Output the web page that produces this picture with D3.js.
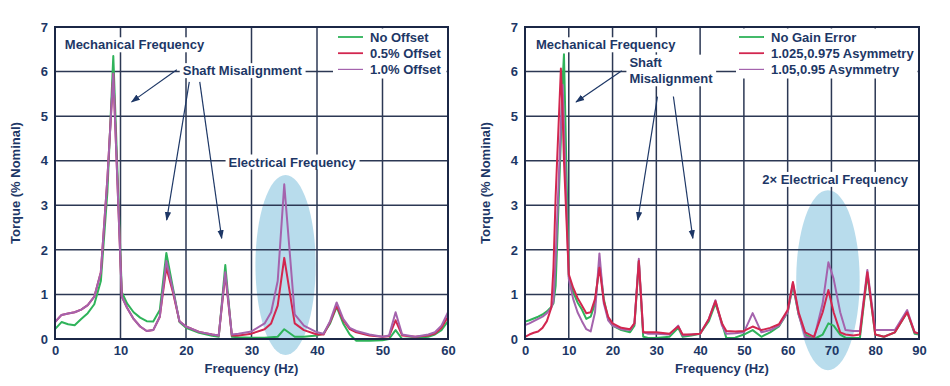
<!DOCTYPE html>
<html>
<head>
<meta charset="utf-8">
<script src="https://cdn.jsdelivr.net/npm/d3@7"></script>
<style>
  body { margin: 0; background: #fff; }
  svg { font-family: "Liberation Sans", Arial, sans-serif; font-weight: bold; }
</style>
</head>
<body>
<div id="main"></div>
<script>
// left chart: shaft offset
const freqLeft = [0,1,2,3,4,5,6,7,8,8.9,10.2,11,12,13,14,15,16,17,18,19,20,22,24,25,26,27,28,30,32,33,34,35,36.6,38,40,41,42,43,44,45,46,48,50,51,52,53,55,57,58,59,60];
const noOffset = [0.22,0.38,0.33,0.31,0.45,0.58,0.78,1.3,3.3,6.35,1.05,0.8,0.6,0.48,0.4,0.39,0.65,1.93,1.15,0.38,0.25,0.14,0.07,0.05,1.66,0.05,0.04,0.03,0.03,0.04,0.05,0.22,0.05,0.05,0.08,0.12,0.35,0.72,0.35,0.1,-0.04,-0.04,-0.03,0.0,0.2,0.0,0.02,0.05,0.1,0.2,0.4];
const offset05 = [0.38,0.54,0.57,0.6,0.66,0.76,0.95,1.5,3.6,5.95,0.95,0.7,0.45,0.28,0.18,0.2,0.5,1.6,1.05,0.4,0.28,0.16,0.1,0.08,1.45,0.08,0.08,0.12,0.22,0.35,0.75,1.82,0.35,0.2,0.1,0.1,0.38,0.75,0.42,0.22,0.15,0.08,0.05,0.06,0.42,0.08,0.05,0.08,0.12,0.25,0.5];
const offset10 = [0.38,0.54,0.57,0.6,0.66,0.76,0.95,1.5,3.6,5.95,0.95,0.7,0.45,0.28,0.18,0.2,0.5,1.75,1.1,0.4,0.28,0.16,0.1,0.08,1.5,0.1,0.12,0.17,0.35,0.6,1.3,3.47,0.55,0.3,0.15,0.12,0.4,0.82,0.45,0.25,0.18,0.1,0.05,0.08,0.6,0.1,0.05,0.1,0.15,0.3,0.6];

// right chart: gain asymmetry
const freqRight = [0,1,2,3,4,5,6,6.5,7,8.2,8.6,8.9,10,11,12,13,14,15,16,17,18,19,20,22,24,25,26,27,28,30,33,35,36,38,40,42,43.5,45,46,48,50,52,54,56,58,60,61.2,62.5,64,66,68,69.3,70.5,72,73.2,75,76.5,78.2,80,82,84.5,87.3,89,90];
const noGainError = [0.39,0.42,0.46,0.5,0.55,0.62,0.72,0.8,1.2,4.5,5.8,6.39,1.4,1.05,0.82,0.66,0.45,0.5,0.8,1.7,0.9,0.45,0.3,0.2,0.15,0.3,1.75,0.05,0.03,0.02,0.05,0.25,0.05,0.08,0.12,0.4,0.8,0.35,0.02,0.03,0.1,0.2,0.05,0.15,0.28,0.6,1.2,0.55,0.1,0.0,0.1,0.35,0.3,0.1,0.03,0.02,0.02,1.45,0.1,0.05,0.15,0.6,0.12,0.1];
const asym025 = [0.05,0.1,0.14,0.17,0.25,0.4,0.7,1.6,3.2,6.07,5.0,4.0,1.45,1.15,0.92,0.75,0.58,0.6,0.9,1.6,0.85,0.5,0.35,0.25,0.22,0.35,1.75,0.15,0.15,0.15,0.12,0.28,0.1,0.1,0.12,0.45,0.85,0.35,0.18,0.17,0.18,0.28,0.2,0.25,0.33,0.65,1.28,0.6,0.15,0.05,0.6,1.1,0.6,0.15,0.1,0.08,0.1,1.5,0.1,0.05,0.15,0.6,0.15,0.12];
const asym05 = [0.31,0.35,0.4,0.45,0.5,0.58,0.7,0.85,1.8,4.8,5.7,4.8,1.35,0.9,0.6,0.4,0.22,0.17,0.6,1.92,0.8,0.42,0.3,0.22,0.2,0.35,1.8,0.15,0.12,0.12,0.1,0.3,0.08,0.1,0.12,0.45,0.87,0.3,0.12,0.13,0.15,0.58,0.15,0.2,0.3,0.6,1.25,0.55,0.05,0.0,0.8,1.72,1.35,0.6,0.2,0.18,0.18,1.55,0.2,0.2,0.2,0.65,0.15,0.12];

const yTicks = [0,1,2,3,4,5,6,7];
const xTicksLeft = [0,10,20,30,40,50,60];
const xTicksRight = [0,10,20,30,40,50,60,70,80,90];

const GREEN = '#2fb35a', RED = '#d2264f', PURPLE = '#a463ad';
const NAVY = '#1d3766', GRID = '#2c3854';
const FONT_SIZE = '13px';

const charts = [
  {
    left: 55, right: 448, xMax: 60, freq: freqLeft, xTicks: xTicksLeft,
    series: [
      { name: 'No Offset', values: noOffset, color: GREEN },
      { name: '0.5% Offset', values: offset05, color: RED },
      { name: '1.0% Offset', values: offset10, color: PURPLE }
    ],
    drawOrder: [0, 1, 2],
    legendX: 338, legendBox: [333, 448],
    ellipse: { f: 35.2, v: 1.66, rf: 4.6, rv: 2.02 },
    labels: [
      { lines: ['Mechanical Frequency'], f: 1.5, v: 6.5 },
      { lines: ['Shaft Misalignment'], f: 19.5, v: 5.92 },
      { lines: ['Electrical Frequency'], f: 26.5, v: 3.87 }
    ],
    arrows: [[18.6, 6.04, 11.7, 5.32], [20.5, 5.77, 17.05, 2.67], [22.1, 5.77, 25.45, 2.26]]
  },
  {
    left: 525, right: 919, xMax: 90, freq: freqRight, xTicks: xTicksRight,
    series: [
      { name: 'No Gain Error', values: noGainError, color: GREEN },
      { name: '1.025,0.975 Asymmetry', values: asym025, color: RED },
      { name: '1.05,0.95 Asymmetry', values: asym05, color: PURPLE }
    ],
    drawOrder: [0, 2, 1],
    legendX: 739, legendBox: [736, 919],
    ellipse: { f: 69.2, v: 1.32, rf: 7.25, rv: 2.02 },
    labels: [
      { lines: ['Mechanical Frequency'], f: 2.5, v: 6.5 },
      { lines: ['Shaft', 'Misalignment'], f: 23.85, v: 6.11 },
      { lines: ['2\u00d7 Electrical Frequency'], f: 54.2, v: 3.48 }
    ],
    arrows: [[22.1, 6.02, 11.66, 5.32], [30.25, 5.44, 25.77, 2.67], [33.9, 5.44, 38.34, 2.26]]
  }
];

const plotTop = 27, plotBottom = 339;

const svg = d3.select('#main').append('svg')
  .attr('width', 950)
  .attr('height', 386);

svg.append('defs').append('marker')
  .attr('id', 'arrow')
  .attr('viewBox', '0 0 10 10')
  .attr('refX', 9).attr('refY', 5)
  .attr('markerWidth', 9).attr('markerHeight', 9)
  .attr('markerUnits', 'userSpaceOnUse')
  .attr('orient', 'auto')
  .append('path')
  .attr('d', 'M0,1.5 L10,5 L0,8.5 Z')
  .attr('fill', NAVY);

charts.forEach(c => {
  const x = d3.scaleLinear().domain([0, c.xMax]).range([c.left, c.right]);
  const y = d3.scaleLinear().domain([0, 7]).range([plotBottom, plotTop]);
  const g = svg.append('g');

  // blue highlight
  g.append('ellipse')
    .attr('cx', x(c.ellipse.f))
    .attr('cy', y(c.ellipse.v))
    .attr('rx', x(c.ellipse.rf) - x(0))
    .attr('ry', y(0) - y(c.ellipse.rv))
    .attr('fill', '#b8dcec');

  // grid
  g.append('g').selectAll('line')
    .data(c.xTicks)
    .enter().append('line')
    .attr('x1', d => x(d)).attr('x2', d => x(d))
    .attr('y1', plotTop).attr('y2', plotBottom)
    .attr('stroke', GRID).attr('stroke-width', 1.5);
  g.append('g').selectAll('line')
    .data(yTicks)
    .enter().append('line')
    .attr('x1', c.left).attr('x2', c.right)
    .attr('y1', d => y(d)).attr('y2', d => y(d))
    .attr('stroke', GRID).attr('stroke-width', 1.5);

  // white backgrounds of the labels
  const bgLayer = g.append('g');
  bgLayer.append('rect')
    .attr('x', c.legendBox[0]).attr('y', plotTop + 1.5)
    .attr('width', c.legendBox[1] - c.legendBox[0] - 1.5)
    .attr('height', 50)
    .attr('fill', '#fff');

  // data lines
  const line = d3.line()
    .x((d, i) => x(c.freq[i]))
    .y(d => y(d));
  c.drawOrder.forEach(k => {
    const s = c.series[k];
    g.append('path')
      .datum(s.values)
      .attr('d', line)
      .attr('fill', 'none')
      .attr('stroke', s.color)
      .attr('stroke-width', 2)
      .attr('stroke-linejoin', 'round');
  });

  // frame
  g.append('rect')
    .attr('x', c.left).attr('y', plotTop)
    .attr('width', c.right - c.left).attr('height', plotBottom - plotTop)
    .attr('fill', 'none')
    .attr('stroke', '#1b2746')
    .attr('stroke-width', 2);

  // annotation text
  c.labels.forEach(l => {
    const t = g.append('text')
      .attr('x', x(l.f)).attr('y', y(l.v))
      .attr('fill', NAVY)
      .style('font-size', FONT_SIZE);
    l.lines.forEach((s, i) => {
      t.append('tspan').attr('x', x(l.f)).attr('dy', i === 0 ? 0 : 16.6).text(s);
    });
    const b = t.node().getBBox();
    bgLayer.append('rect')
      .attr('x', b.x - 3).attr('y', b.y)
      .attr('width', b.width + 6).attr('height', b.height)
      .attr('fill', '#fff');
  });

  // arrows
  g.append('g').selectAll('line')
    .data(c.arrows)
    .enter().append('line')
    .attr('x1', d => x(d[0])).attr('y1', d => y(d[1]))
    .attr('x2', d => x(d[2])).attr('y2', d => y(d[3]))
    .attr('stroke', NAVY)
    .attr('stroke-width', 1.2)
    .attr('marker-end', 'url(#arrow)');

  // legend
  const leg = g.append('g');
  c.series.forEach((s, i) => {
    const ly = 37 + i * 16.2;
    leg.append('line')
      .attr('x1', c.legendX).attr('x2', c.legendX + 25)
      .attr('y1', ly).attr('y2', ly)
      .attr('stroke', s.color).attr('stroke-width', i === 2 ? 1.2 : 1.8);
    leg.append('text')
      .attr('x', c.legendX + 32).attr('y', ly + 4.5)
      .attr('fill', NAVY)
      .style('font-size', FONT_SIZE)
      .text(s.name);
  });

  // axes
  const xAxis = g.append('g')
    .attr('transform', `translate(0,${plotBottom + 4})`)
    .call(d3.axisBottom(x).tickValues(c.xTicks).tickSize(0).tickFormat(d3.format('d')));
  const yAxis = g.append('g')
    .attr('transform', `translate(${c.left - 4},0)`)
    .call(d3.axisLeft(y).tickValues(yTicks).tickSize(0).tickFormat(d3.format('d')));
  [xAxis, yAxis].forEach(a => {
    a.select('.domain').remove();
    a.selectAll('text')
      .attr('fill', NAVY)
      .style('font-family', '"Liberation Sans", Arial, sans-serif')
      .style('font-weight', 'bold')
      .style('font-size', FONT_SIZE);
  });

  g.append('text')
    .attr('x', (c.left + c.right) / 2)
    .attr('y', 373)
    .attr('text-anchor', 'middle')
    .attr('fill', NAVY)
    .style('font-size', FONT_SIZE)
    .text('Frequency (Hz)');

  g.append('text')
    .attr('transform', `translate(${c.left - 35},183) rotate(-90)`)
    .attr('text-anchor', 'middle')
    .attr('fill', NAVY)
    .style('font-size', FONT_SIZE)
    .text('Torque (% Nominal)');
});
</script>
</body>
</html>
